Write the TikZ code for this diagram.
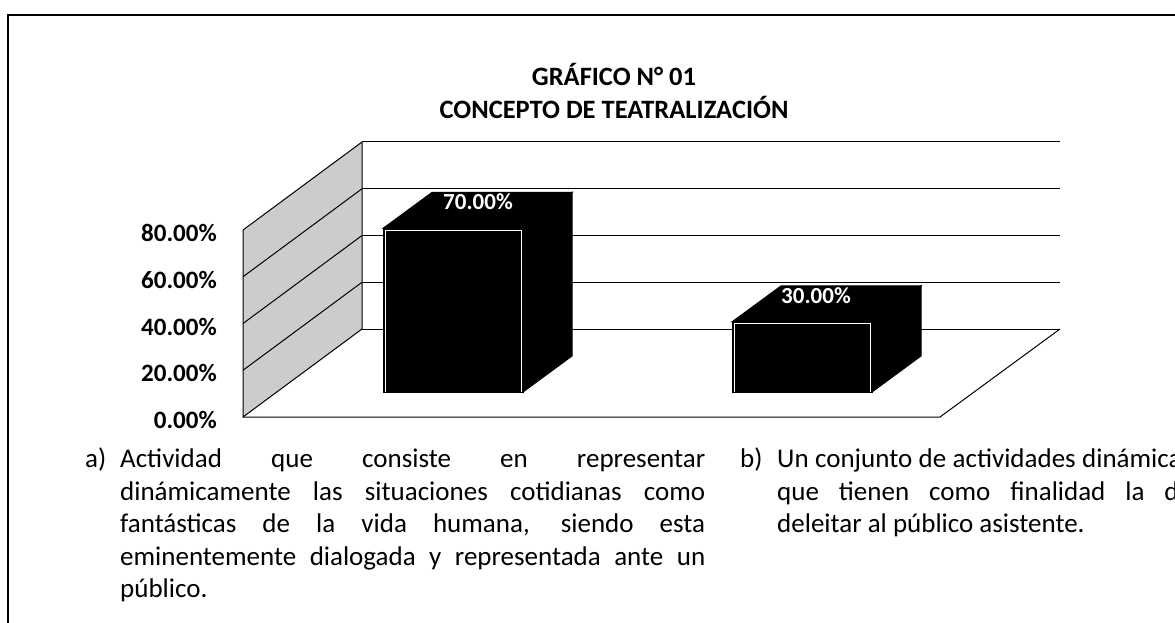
\documentclass[tikz,border=0pt]{standalone}
\usepackage{fontspec}
\setmainfont{Carlito}
\begin{document}
\begin{tikzpicture}[x=1pt,y=-1pt,
  frame/.style={line width=1.2pt},
  gridln/.style={line width=1pt},
  wall/.style={fill=gray!40,draw=black,line width=1pt},
  barface/.style={fill=black,draw=black,line width=1pt},
  frontedge/.style={draw=white,line width=1pt},
  ticklbl/.style={anchor=east,inner sep=0pt,font=\fontsize{25}{30}\selectfont\bfseries},
  vallbl/.style={text=white,inner sep=0pt,font=\fontsize{23}{26}\selectfont\bfseries},
  ttl/.style={align=center,inner sep=0pt,font=\fontsize{26.5}{33}\selectfont\bfseries},
  para/.style={anchor=north west,inner sep=0pt,font=\fontsize{27}{32.5}\selectfont}]
\clip (0,0) rectangle (1175,623);
\fill[white] (0,0) rectangle (1175,623);
% frame
\draw[frame] (8,623) -- (8,15) -- (1175,15);
% title
\node[ttl] (title) at (614,91) {GRÁFICO N° 01\\CONCEPTO DE TEATRALIZACIÓN};
% side wall
\draw[wall] (243,417) -- (243,230) -- (362,142) -- (362,329) -- cycle;
\foreach \k in {1,2,3} {
  \draw[gridln] (243,417-46.75*\k) -- (362,329-46.75*\k);
}
% back wall grid lines
\foreach \k in {0,1,2,3,4} {
  \draw[gridln] (362,329-46.75*\k) -- (1060,329-46.75*\k);
}
% floor
\draw[gridln] (243,417) -- (940,417) -- (1060,329);
% tick labels
\node[ticklbl] (t0) at (217,420) {0.00\%};
\node[ticklbl] (t20) at (217,373.25) {20.00\%};
\node[ticklbl] (t40) at (217,326.5) {40.00\%};
\node[ticklbl] (t60) at (217,279.75) {60.00\%};
\node[ticklbl] (t80) at (217,233) {80.00\%};
% bar 1 (70%)
\draw[barface] (383,228.4) -- (432,192.4) -- (572,192.4) -- (523,228.4) -- cycle;
\draw[barface] (523,228.4) -- (572,192.4) -- (572,356) -- (523,392) -- cycle;
\draw[barface] (383,392) rectangle (523,228.4);
\draw[frontedge] (385,392) -- (385,230.4) -- (521,230.4) -- (521,392);
\node[vallbl] (v1) at (478,202) {70.00\%};
% bar 2 (30%)
\draw[barface] (732,321.9) -- (781,285.9) -- (921,285.9) -- (872,321.9) -- cycle;
\draw[barface] (872,321.9) -- (921,285.9) -- (921,356) -- (872,392) -- cycle;
\draw[barface] (732,392) rectangle (872,321.9);
\draw[frontedge] (734,392) -- (734,323.9) -- (870,323.9) -- (870,392);
\node[vallbl] (v2) at (816,296) {30.00\%};
% captions
\node[para] (capa) at (85,448) {\parbox[t]{620pt}{\hyphenpenalty=10000\hangindent=35pt\hangafter=1\noindent\makebox[35pt][l]{a)}Actividad que consiste en representar\linebreak dinámicamente las situaciones cotidianas como\linebreak fantásticas de la vida humana, siendo esta\linebreak eminentemente dialogada y representada ante un\linebreak público.}};
\node[para] (capb) at (740,448) {\parbox[t]{452pt}{\hyphenpenalty=10000\hangindent=37pt\hangafter=1\noindent\makebox[37pt][l]{b)}Un conjunto de actividades dinámicas\linebreak que tienen como finalidad la de\linebreak deleitar al público asistente.}};
\end{tikzpicture}
\end{document}
